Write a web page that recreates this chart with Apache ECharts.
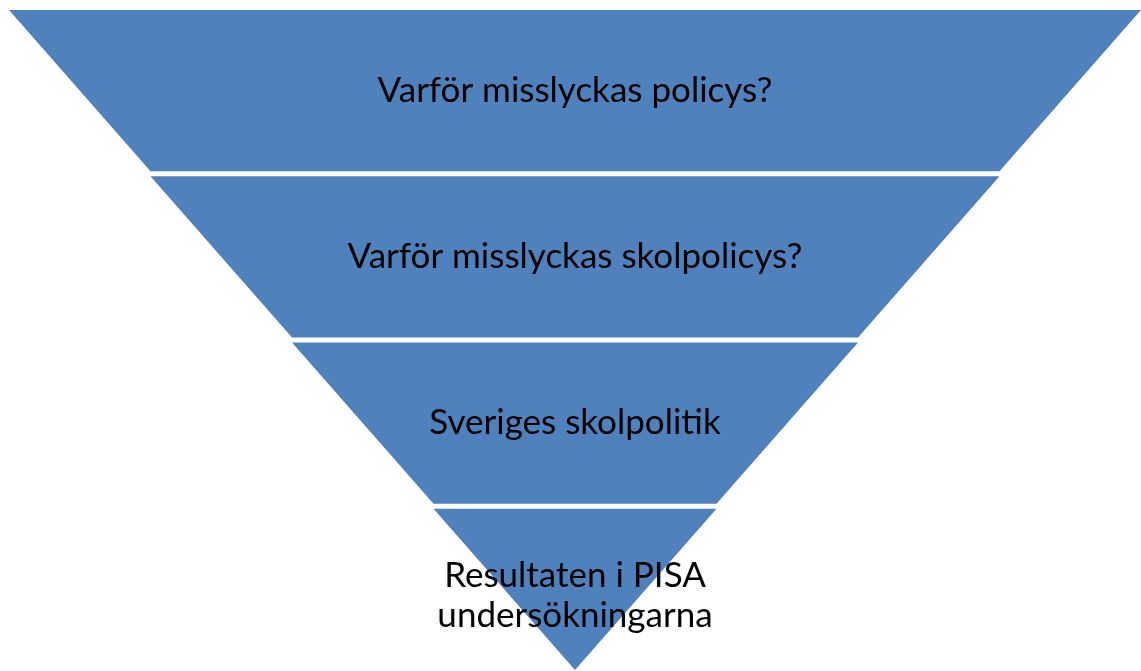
<!DOCTYPE html>
<html>
<head>
<meta charset="utf-8">
<script src="https://cdn.jsdelivr.net/npm/echarts@6/dist/echarts.min.js"></script>
<style>
  html, body { margin: 0; padding: 0; background: #fff; }
  #chart { width: 1141px; height: 671px; }
</style>
</head>
<body>
<div id="chart"></div>
<script>
// levels, top to bottom
const levels = [
  'Varför misslyckas policys?',
  'Varför misslyckas skolpolicys?',
  'Sveriges skolpolitik',
  'Resultaten i PISA\nundersökningarna'
];
// relative width of each level's top edge
const widths = [4, 3, 2, 1];

const chart = echarts.init(document.getElementById('chart'));

chart.setOption({
  animation: false,
  series: [{
    type: 'funnel',
    left: 9,
    top: 10,
    width: 1132,
    height: 660,
    min: 0,
    max: 4,
    minSize: '0%',
    maxSize: '100%',
    sort: 'none',
    gap: 5,
    silent: true,
    itemStyle: {
      color: '#4F81BD',
      borderWidth: 0
    },
    label: {
      show: true,
      position: 'inside',
      color: '#000',
      fontFamily: 'Lato',
      fontSize: 35,
      formatter: (p) => {
        const lines = p.name.split('\n').map((l) => '{t|' + l + '}');
        // push the two-line label a bit lower, like the original
        if (lines.length > 1) lines.unshift('{s| }');
        return lines.join('\n');
      },
      rich: {
        t: { fontFamily: 'Lato', fontSize: 35, lineHeight: 40, color: '#000' },
        s: { fontSize: 1, lineHeight: 13 }
      }
    },
    labelLine: { show: false },
    emphasis: { disabled: true },
    data: levels.map((name, i) => ({ name: name, value: widths[i] }))
  }]
});
</script>
</body>
</html>
